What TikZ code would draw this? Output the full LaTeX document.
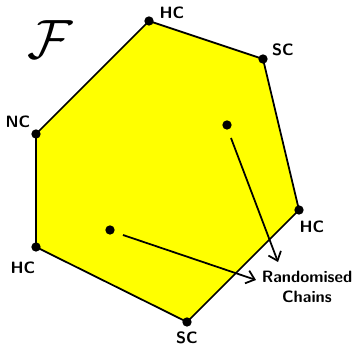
\documentclass[tikz,border=0pt]{standalone}
\usepackage{amsmath}
\usepackage{xcolor}
\usetikzlibrary{arrows.meta}
\definecolor{famyellow}{RGB}{255,255,0}

\begin{document}
\begin{tikzpicture}[x=0.03cm, y=-0.03cm,
  vdot/.style={circle, fill=black, inner sep=0pt, minimum size=2.8mm},
  lbl/.style={font=\fontsize{14}{16.5}\selectfont\sffamily\bfseries, inner sep=1pt},
  edge/.style={line width=1.5pt, line join=miter},
  arr/.style={line width=1.5pt, -{Straight Barb[length=2.4mm, width=4mm, line width=1.5pt]}}]
  \useasboundingbox (0,0) rectangle (352,347);
  % corners of the hexagon
  \coordinate (hctop) at (149,21);
  \coordinate (sctop) at (263,59);
  \coordinate (hcright) at (299,210);
  \coordinate (scbot) at (187,322);
  \coordinate (hcleft) at (36,247);
  \coordinate (nc) at (36,134);
  \draw[edge, fill=famyellow] (hctop) -- (sctop) -- (hcright) -- (scbot) -- (hcleft) -- (nc) -- cycle;
  \foreach \c in {hctop,sctop,hcright,scbot,hcleft,nc}
    \node[vdot] at (\c) {};
  % corner labels
  \node[lbl] (lhctop) at (172,13) {HC};
  \node[lbl] (lsctop) at (283,50) {SC};
  \node[lbl] (lhcright) at (312,227) {HC};
  \node[lbl] (lscbot) at (187,338) {SC};
  \node[lbl] (lhcleft) at (23,268) {HC};
  \node[lbl] (lnc) at (18,122) {NC};
  % family name
  \node[font=\Huge, scale=1.9] (fam) at (50,40) {$\mathcal{F}$};
  % two chains inside
  \node[vdot] (ch1) at (227,125) {};
  \node[vdot] (ch2) at (110,230) {};
  \node[lbl, align=center] (rc) at (307,287) {Randomised\\Chains};
  \draw[arr] (ch1) ++(4,13) -- (278,262);
  \draw[arr] (ch2) ++(13,5) -- (256,280);
\end{tikzpicture}
\end{document}
